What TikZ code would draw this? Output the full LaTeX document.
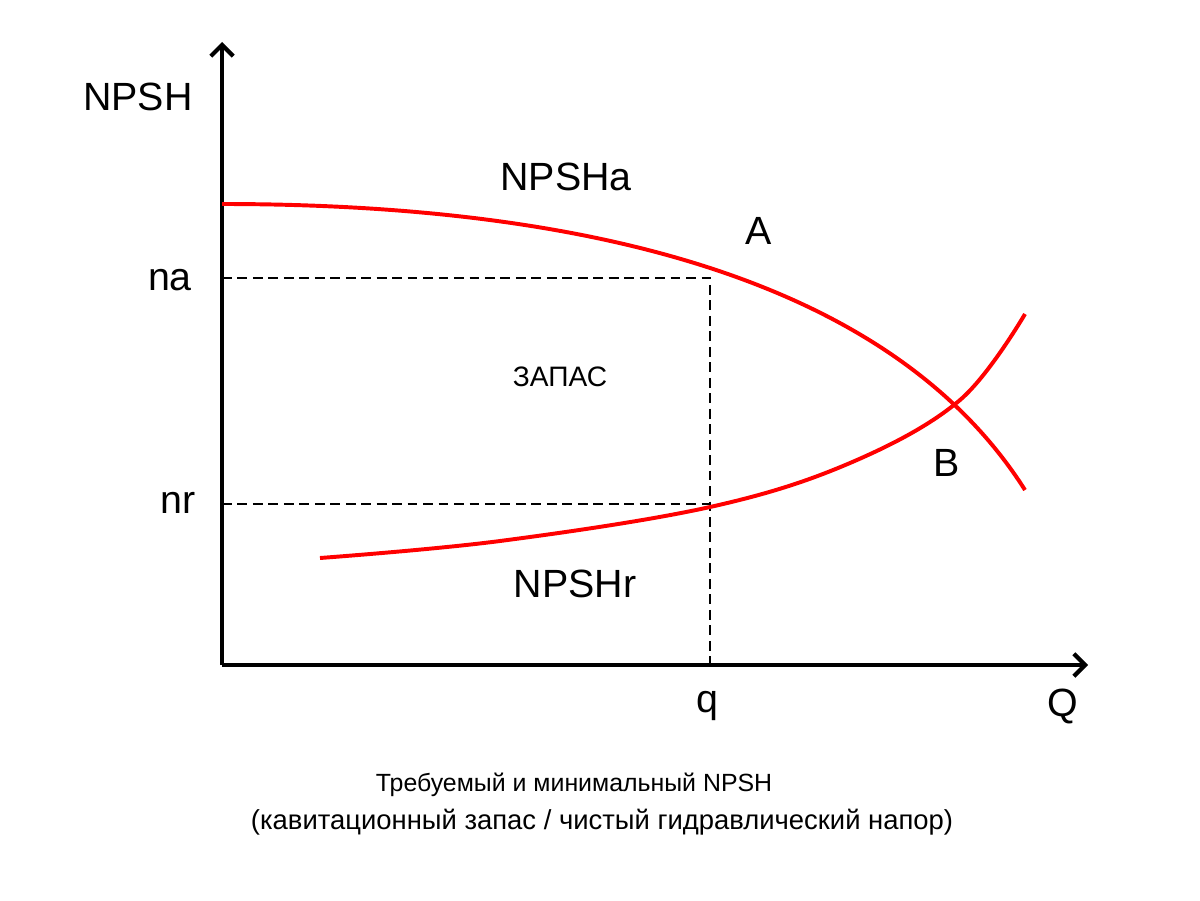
\documentclass[tikz,border=0pt]{standalone}
\usepackage{fontspec}
\setmainfont{Liberation Sans}
\usetikzlibrary{arrows.meta}

\begin{document}
\begin{tikzpicture}[x=0.025cm, y=-0.025cm,
    axis/.style={line width=3.5pt, -{Straight Barb[length=8pt,width=16pt,line width=3pt]}},
    curve/.style={red, line width=2.8pt},
    guide/.style={black, line width=1.8pt, dash pattern=on 7pt off 4pt},
    big/.style={font=\fontsize{28}{32}\selectfont},
    small/.style={font=\fontsize{17.7}{21}\selectfont}]

        \useasboundingbox (0,0) rectangle (1200,900);

        % axes
        \coordinate (o) at (222,665);
        \coordinate (ytop) at (222,42);
        \coordinate (xend) at (1088,665);
        \draw[axis] (o) -- (ytop);
        \draw[axis] (o) -- (xend);

        % guides
        \coordinate (na) at (222,278);
        \coordinate (nr) at (222,504);
        \coordinate (pa) at (710,278);
        \coordinate (pr) at (710,504);
        \coordinate (q) at (710,665);
        \draw[guide] (na) -- (pa) -- (q);
        \draw[guide] (nr) -- (pr);

        % curves
        \draw[curve] (222,204) .. controls (600,204) and (895,285) .. (1025,490);
        \draw[curve] plot[smooth, tension=0.6] coordinates
            {(320,558) (500,541) (710,507) (850,463) (960,400) (1025,314)};

        % labels
        \node[big] (lnpsh) at (138,97) {NPSH};
        \node[big] (lna) at (170,280) {na};
        \node[big] (lnr) at (178,503) {nr};
        \node[big] (lq) at (707,706) {q};
        \node[big] (lQ) at (1063,706) {Q};
        \node[big] (lnpsha) at (566,177) {NPSHa};
        \node[big] (lA) at (759,231) {A};
        \node[big] (lB) at (947,463) {B};
        \node[big] (lnpshr) at (575,584) {NPSHr};
        \node[font=\fontsize{20}{24}\selectfont] (zapas) at (560,377) {ЗАПАС};
        \node[small] (cap1) at (574,785) {Требуемый и минимальный NPSH};
        \node[font=\fontsize{19.5}{23}\selectfont] (cap2) at (602,822) {(кавитационный запас / чистый гидравлический напор)};

\end{tikzpicture}
\end{document}
